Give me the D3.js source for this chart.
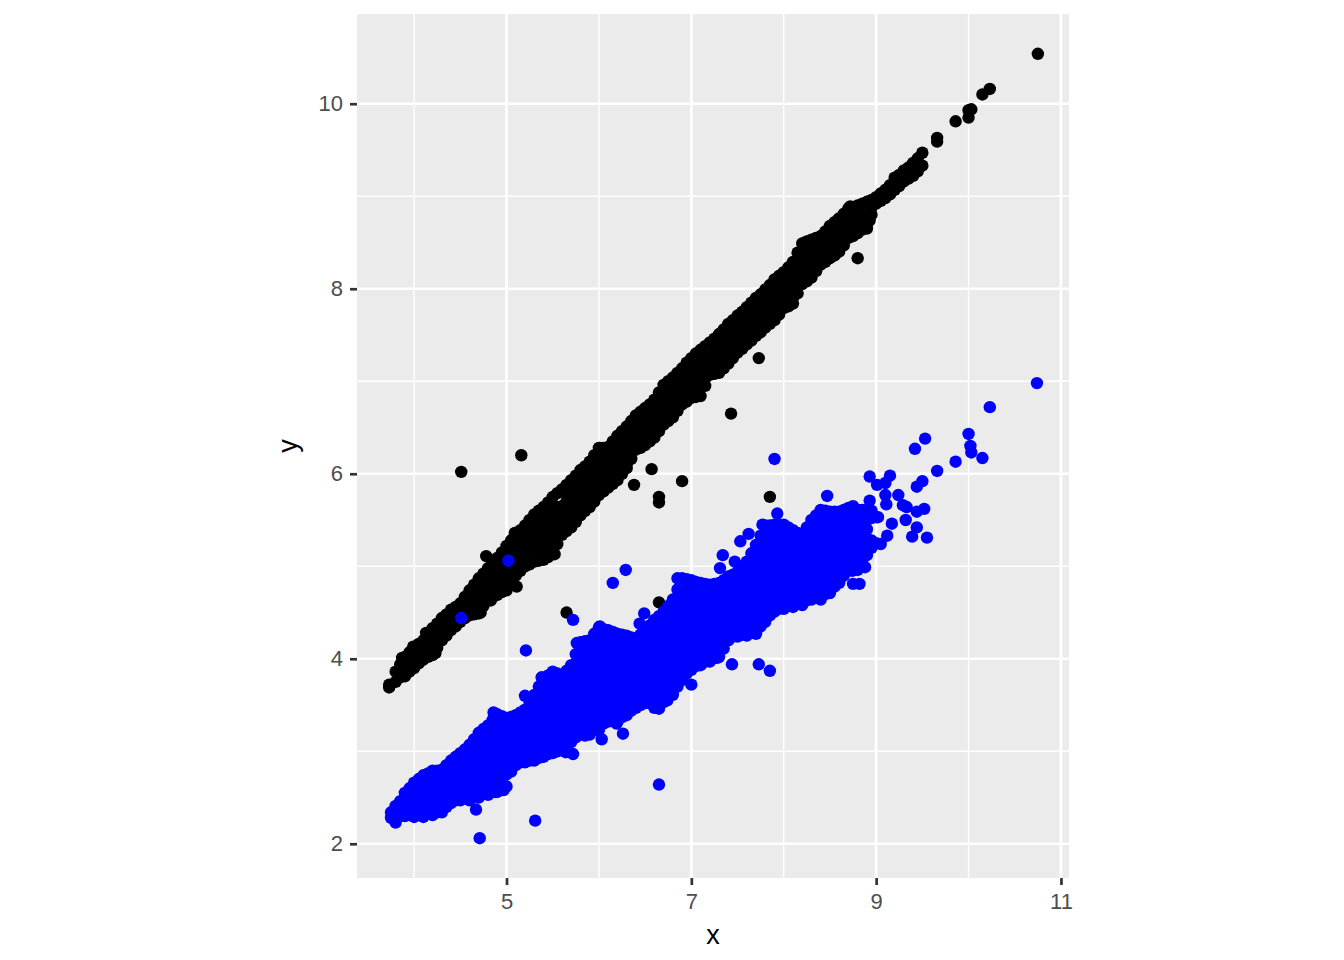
<!DOCTYPE html>
<html>
<head>
<meta charset="utf-8">
<script src="https://cdn.jsdelivr.net/npm/d3@7"></script>
<style>
  html, body { margin: 0; background: #fff; }
  text { font-family: "Liberation Sans", Arial, sans-serif; }
</style>
</head>
<body>
<div id="chart"></div>
<script>
const xMajor = [5, 7, 9, 11];
const xMinor = [4, 6, 8, 10];
const yMajor = [2, 4, 6, 8, 10];
const yMinor = [3, 5, 7, 9];

// the bands are too dense to read dot by dot, so each row is [x, [y, y, ...]] estimated by eye
const blackBand = [
  [3.73, [3.69, 3.72]],
  [3.8, [3.75, 3.86]],
  [3.9, [3.81, 3.92, 4.02]],
  [4.0, [3.90, 4.00, 4.12]],
  [4.1, [3.99, 4.10, 4.20]],
  [4.2, [4.04, 4.15, 4.25, 4.33]],
  [4.3, [4.20, 4.30, 4.44]],
  [4.4, [4.31, 4.42, 4.53]],
  [4.5, [4.40, 4.50, 4.60]],
  [4.6, [4.47, 4.55, 4.65, 4.74]],
  [4.7, [4.49, 4.60, 4.70, 4.80, 4.87]],
  [4.8, [4.64, 4.75, 4.85, 4.98]],
  [4.9, [4.69, 4.80, 4.90, 5.00, 5.09]],
  [5.0, [4.74, 4.85, 4.95, 5.05, 5.22]],
  [5.1, [4.90, 5.00, 5.10, 5.20, 5.35]],
  [5.2, [5.00, 5.15, 5.25, 5.35, 5.44]],
  [5.3, [5.05, 5.20, 5.30, 5.40, 5.56]],
  [5.4, [5.07, 5.15, 5.25, 5.35, 5.45, 5.55, 5.64]],
  [5.5, [5.13, 5.30, 5.40, 5.50, 5.60, 5.75]],
  [5.6, [5.34, 5.45, 5.55, 5.65, 5.83]],
  [5.7, [5.42, 5.50, 5.60, 5.70, 5.80, 5.93]],
  [5.8, [5.55, 5.65, 5.75, 5.85, 6.04]],
  [5.9, [5.64, 5.70, 5.80, 5.90, 6.00, 6.13]],
  [6.0, [5.77, 5.85, 5.95, 6.05, 6.15, 6.28]],
  [6.1, [5.85, 5.90, 6.00, 6.10, 6.20, 6.29]],
  [6.2, [5.93, 6.05, 6.15, 6.25, 6.41]],
  [6.3, [6.06, 6.10, 6.20, 6.30, 6.40, 6.51]],
  [6.4, [6.26, 6.35, 6.45, 6.63]],
  [6.5, [6.31, 6.40, 6.50, 6.60, 6.71]],
  [6.6, [6.39, 6.45, 6.55, 6.65, 6.80]],
  [6.7, [6.53, 6.60, 6.70, 6.80, 6.96]],
  [6.8, [6.61, 6.75, 6.85, 6.95, 7.04]],
  [6.9, [6.75, 6.80, 6.90, 7.00, 7.14]],
  [7.0, [6.82, 6.95, 7.05, 7.15, 7.25]],
  [7.1, [6.84, 7.00, 7.10, 7.20, 7.34]],
  [7.2, [7.07, 7.15, 7.25, 7.42]],
  [7.3, [7.09, 7.20, 7.30, 7.40, 7.51]],
  [7.4, [7.19, 7.25, 7.35, 7.45, 7.62]],
  [7.5, [7.31, 7.40, 7.50, 7.60, 7.71]],
  [7.6, [7.40, 7.45, 7.55, 7.65, 7.80]],
  [7.7, [7.49, 7.60, 7.70, 7.80, 7.90]],
  [7.8, [7.58, 7.65, 7.75, 7.85, 7.99]],
  [7.9, [7.66, 7.80, 7.90, 8.00, 8.10]],
  [8.0, [7.79, 7.85, 7.95, 8.05, 8.18]],
  [8.1, [7.84, 7.90, 8.00, 8.10, 8.20, 8.29]],
  [8.2, [8.05, 8.15, 8.25, 8.35, 8.49]],
  [8.3, [8.12, 8.20, 8.30, 8.40, 8.53]],
  [8.4, [8.26, 8.35, 8.45, 8.57]],
  [8.5, [8.33, 8.40, 8.50, 8.68]],
  [8.6, [8.40, 8.55, 8.65, 8.76]],
  [8.7, [8.55, 8.60, 8.70, 8.87]],
  [8.8, [8.60, 8.75, 8.90]],
  [8.9, [8.69, 8.80, 8.94]],
  [9.0, [8.92, 8.99]],
  [9.1, [8.98, 9.07]],
  [9.2, [9.07, 9.20]],
  [9.3, [9.16, 9.28]],
  [9.4, [9.22, 9.36]],
  [9.5, [9.33, 9.47]],
];

// dots between the rows above, so the band closes up as in the reference
const blackFill = [
  [3.85, [3.80, 3.88, 3.94]],
  [3.95, [3.86, 3.94, 4.02, 4.07]],
  [4.05, [3.95, 4.03, 4.11, 4.16]],
  [4.15, [4.02, 4.10, 4.18, 4.26]],
  [4.25, [4.12, 4.20, 4.28, 4.38]],
  [4.35, [4.25, 4.33, 4.41, 4.48]],
  [4.45, [4.35, 4.43, 4.51, 4.56]],
  [4.55, [4.44, 4.52, 4.60, 4.67]],
  [4.65, [4.48, 4.56, 4.64, 4.72, 4.80]],
  [4.75, [4.57, 4.65, 4.73, 4.81, 4.92]],
  [4.85, [4.67, 4.75, 4.83, 4.91, 5.03]],
  [4.95, [4.72, 4.80, 4.88, 4.96, 5.04, 5.15]],
  [5.05, [4.82, 4.90, 4.98, 5.06, 5.14, 5.28]],
  [5.15, [4.95, 5.03, 5.11, 5.19, 5.27, 5.39]],
  [5.25, [5.02, 5.10, 5.18, 5.26, 5.34, 5.42, 5.50]],
  [5.35, [5.06, 5.14, 5.22, 5.30, 5.38, 5.46, 5.60]],
  [5.45, [5.10, 5.18, 5.26, 5.34, 5.42, 5.50, 5.58, 5.69]],
  [5.55, [5.24, 5.32, 5.40, 5.48, 5.56, 5.64, 5.79]],
  [5.65, [5.38, 5.46, 5.54, 5.62, 5.70, 5.78, 5.88]],
  [5.75, [5.48, 5.56, 5.64, 5.72, 5.80, 5.88, 5.98]],
  [5.85, [5.60, 5.68, 5.76, 5.84, 5.92, 6.00, 6.08]],
  [5.95, [5.70, 5.78, 5.86, 5.94, 6.02, 6.10, 6.20]],
  [6.05, [5.81, 5.89, 5.97, 6.05, 6.13, 6.21, 6.28]],
  [6.15, [5.89, 5.97, 6.05, 6.13, 6.21, 6.29, 6.35]],
  [6.25, [6.00, 6.08, 6.16, 6.24, 6.32, 6.40, 6.46]],
  [6.35, [6.16, 6.24, 6.32, 6.40, 6.48, 6.57]],
  [6.45, [6.28, 6.36, 6.44, 6.52, 6.60, 6.67]],
  [6.55, [6.35, 6.43, 6.51, 6.59, 6.67, 6.75]],
  [6.65, [6.46, 6.54, 6.62, 6.70, 6.78, 6.88]],
  [6.75, [6.57, 6.65, 6.73, 6.81, 6.89, 7.00]],
  [6.85, [6.68, 6.76, 6.84, 6.92, 7.00, 7.09]],
  [6.95, [6.78, 6.86, 6.94, 7.02, 7.10, 7.20]],
  [7.05, [6.83, 6.91, 6.99, 7.07, 7.15, 7.23, 7.30]],
  [7.15, [6.95, 7.03, 7.11, 7.19, 7.27, 7.38]],
  [7.25, [7.08, 7.16, 7.24, 7.32, 7.40, 7.46]],
  [7.35, [7.14, 7.22, 7.30, 7.38, 7.46, 7.56]],
  [7.45, [7.25, 7.33, 7.41, 7.49, 7.57, 7.66]],
  [7.55, [7.35, 7.43, 7.51, 7.59, 7.67, 7.75]],
  [7.65, [7.44, 7.52, 7.60, 7.68, 7.76, 7.85]],
  [7.75, [7.53, 7.61, 7.69, 7.77, 7.85, 7.94]],
  [7.85, [7.62, 7.70, 7.78, 7.86, 7.94, 8.04]],
  [7.95, [7.72, 7.80, 7.88, 7.96, 8.04, 8.14]],
  [8.05, [7.81, 7.89, 7.97, 8.05, 8.13, 8.23]],
  [8.15, [7.95, 8.03, 8.11, 8.19, 8.27, 8.39]],
  [8.25, [8.08, 8.16, 8.24, 8.32, 8.40, 8.51]],
  [8.35, [8.19, 8.27, 8.35, 8.43, 8.55]],
  [8.45, [8.29, 8.37, 8.45, 8.53, 8.62]],
  [8.55, [8.36, 8.44, 8.52, 8.60, 8.72]],
  [8.65, [8.47, 8.55, 8.63, 8.71, 8.81]],
  [8.75, [8.57, 8.65, 8.73, 8.81, 8.88]],
  [8.85, [8.64, 8.72, 8.80, 8.92]],
  [8.95, [8.80, 8.88, 8.96]],
  [9.05, [8.95, 9.03]],
  [9.15, [9.02, 9.12]],
  [9.25, [9.11, 9.23]],
  [9.35, [9.19, 9.31]],
  [9.45, [9.27, 9.41]],
];

const blackSingles = [
  [9.66, 9.63], [9.66, 9.59], [9.86, 9.81], [10.0, 9.85], [10.03, 9.94], [10.0, 9.93],
  [10.15, 10.10], [10.23, 10.16], [10.75, 10.54],
  [7.73, 7.25], [7.43, 6.65], [8.80, 8.33], [5.16, 6.20], [4.51, 6.02], [4.78, 5.11],
  [6.57, 6.05], [6.38, 5.88], [6.90, 5.92], [6.65, 5.75], [6.65, 5.69], [5.65, 4.50],
  [6.65, 4.61], [5.11, 4.78], [7.85, 5.75],
  [3.99, 4.13], [3.87, 4.01], [4.13, 4.28], [4.23, 4.06], [4.72, 4.50], [5.52, 5.13],
  [5.21, 5.01], [4.83, 4.63], [8.59, 8.75], [8.72, 8.89], [8.90, 8.65], [8.93, 8.74],
  [8.23, 8.50], [6.01, 6.28], [5.09, 5.36],
];

const blueBand = [
  [3.75, [2.28, 2.34]],
  [3.8, [2.23, 2.32, 2.41]],
  [3.9, [2.30, 2.40, 2.48, 2.55]],
  [4.0, [2.29, 2.35, 2.45, 2.55, 2.66]],
  [4.1, [2.29, 2.40, 2.50, 2.60, 2.74]],
  [4.2, [2.31, 2.35, 2.45, 2.55, 2.65, 2.79]],
  [4.3, [2.34, 2.40, 2.50, 2.60, 2.70, 2.80]],
  [4.4, [2.44, 2.55, 2.65, 2.75, 2.82, 2.90]],
  [4.5, [2.47, 2.60, 2.70, 2.80, 2.90, 2.98]],
  [4.6, [2.47, 2.55, 2.65, 2.75, 2.85, 2.95, 3.07]],
  [4.7, [2.50, 2.60, 2.70, 2.80, 2.90, 3.00, 3.10, 3.20]],
  [4.8, [2.53, 2.65, 2.75, 2.85, 2.95, 3.05, 3.15, 3.28]],
  [4.9, [2.56, 2.70, 2.80, 2.90, 3.00, 3.10, 3.20, 3.30, 3.40]],
  [5.0, [2.62, 2.75, 2.85, 2.95, 3.05, 3.15, 3.25, 3.36]],
  [5.1, [2.85, 2.90, 3.00, 3.10, 3.20, 3.30, 3.39]],
  [5.2, [2.88, 2.95, 3.05, 3.15, 3.25, 3.35, 3.45]],
  [5.3, [2.90, 3.00, 3.10, 3.20, 3.30, 3.40, 3.50, 3.61]],
  [5.4, [2.94, 3.05, 3.15, 3.25, 3.35, 3.45, 3.55, 3.65, 3.79]],
  [5.5, [2.98, 3.10, 3.20, 3.30, 3.40, 3.50, 3.60, 3.70, 3.78, 3.86]],
  [5.6, [3.02, 3.15, 3.25, 3.35, 3.45, 3.55, 3.65, 3.75, 3.81]],
  [5.7, [3.10, 3.20, 3.30, 3.40, 3.50, 3.60, 3.70, 3.80, 3.93]],
  [5.8, [3.18, 3.25, 3.35, 3.45, 3.55, 3.65, 3.75, 3.85, 3.95, 4.05, 4.18]],
  [5.9, [3.18, 3.30, 3.40, 3.50, 3.60, 3.70, 3.80, 3.90, 4.00, 4.10, 4.20]],
  [6.0, [3.23, 3.35, 3.45, 3.55, 3.65, 3.75, 3.85, 3.95, 4.05, 4.15, 4.25, 4.34]],
  [6.1, [3.32, 3.40, 3.50, 3.60, 3.70, 3.80, 3.90, 4.00, 4.10, 4.20, 4.31]],
  [6.2, [3.32, 3.45, 3.55, 3.65, 3.75, 3.85, 3.95, 4.05, 4.15, 4.27]],
  [6.3, [3.39, 3.50, 3.60, 3.70, 3.80, 3.90, 4.00, 4.10, 4.20, 4.25]],
  [6.4, [3.47, 3.55, 3.65, 3.75, 3.85, 3.95, 4.05, 4.15, 4.22]],
  [6.5, [3.52, 3.60, 3.70, 3.80, 3.90, 4.00, 4.10, 4.20, 4.31]],
  [6.6, [3.47, 3.55, 3.65, 3.75, 3.85, 3.95, 4.05, 4.15, 4.25, 4.35, 4.42]],
  [6.7, [3.53, 3.60, 3.70, 3.80, 3.90, 4.00, 4.10, 4.20, 4.30, 4.40, 4.51]],
  [6.8, [3.61, 3.75, 3.85, 3.95, 4.05, 4.15, 4.25, 4.35, 4.45, 4.55, 4.64]],
  [6.9, [3.77, 3.80, 3.90, 4.00, 4.10, 4.20, 4.30, 4.40, 4.50, 4.60, 4.70, 4.87]],
  [7.0, [3.88, 3.95, 4.05, 4.15, 4.25, 4.35, 4.45, 4.55, 4.65, 4.75, 4.85]],
  [7.1, [3.93, 4.00, 4.10, 4.20, 4.30, 4.40, 4.50, 4.60, 4.70, 4.82]],
  [7.2, [3.97, 4.05, 4.15, 4.25, 4.35, 4.45, 4.55, 4.65, 4.75, 4.80]],
  [7.3, [4.02, 4.10, 4.20, 4.30, 4.40, 4.50, 4.60, 4.70, 4.82]],
  [7.4, [4.20, 4.25, 4.35, 4.45, 4.55, 4.65, 4.75, 4.89]],
  [7.5, [4.24, 4.30, 4.40, 4.50, 4.60, 4.70, 4.80, 4.94]],
  [7.6, [4.25, 4.35, 4.45, 4.55, 4.65, 4.75, 4.85, 4.95, 5.05]],
  [7.7, [4.27, 4.40, 4.50, 4.60, 4.70, 4.80, 4.90, 5.00, 5.10, 5.23]],
  [7.8, [4.40, 4.45, 4.55, 4.65, 4.75, 4.85, 4.95, 5.05, 5.15, 5.25, 5.35, 5.44]],
  [7.9, [4.51, 4.60, 4.70, 4.80, 4.90, 5.00, 5.10, 5.20, 5.30, 5.45]],
  [8.0, [4.54, 4.65, 4.75, 4.85, 4.95, 5.05, 5.15, 5.25, 5.35, 5.45]],
  [8.1, [4.56, 4.60, 4.70, 4.80, 4.90, 5.00, 5.10, 5.20, 5.30, 5.39]],
  [8.2, [4.58, 4.65, 4.75, 4.85, 4.95, 5.05, 5.15, 5.25, 5.34]],
  [8.3, [4.64, 4.70, 4.80, 4.90, 5.00, 5.10, 5.20, 5.30, 5.40, 5.50]],
  [8.4, [4.64, 4.75, 4.85, 4.95, 5.05, 5.15, 5.25, 5.35, 5.45, 5.61]],
  [8.5, [4.71, 4.80, 4.90, 5.00, 5.10, 5.20, 5.30, 5.40, 5.50, 5.59]],
  [8.6, [4.82, 4.85, 4.95, 5.05, 5.15, 5.25, 5.35, 5.45, 5.59]],
  [8.7, [4.96, 5.00, 5.10, 5.20, 5.30, 5.40, 5.50, 5.63]],
  [8.8, [4.96, 5.05, 5.15, 5.25, 5.35, 5.45, 5.61]],
  [8.9, [5.12, 5.20, 5.30, 5.40, 5.50, 5.61]],
  [9.0, [5.25, 5.53]],
];

const blueFill = [
  [3.85, [2.30, 2.38, 2.46]],
  [3.95, [2.31, 2.39, 2.47, 2.55, 2.60]],
  [4.05, [2.32, 2.40, 2.48, 2.56, 2.64, 2.70]],
  [4.15, [2.32, 2.40, 2.48, 2.56, 2.64, 2.72, 2.76]],
  [4.25, [2.34, 2.42, 2.50, 2.58, 2.66, 2.74, 2.79]],
  [4.35, [2.40, 2.48, 2.56, 2.64, 2.72, 2.80, 2.85]],
  [4.45, [2.47, 2.55, 2.63, 2.71, 2.79, 2.87, 2.94]],
  [4.55, [2.50, 2.58, 2.66, 2.74, 2.82, 2.90, 2.98, 3.02]],
  [4.65, [2.52, 2.60, 2.68, 2.76, 2.84, 2.92, 3.00, 3.08, 3.13]],
  [4.75, [2.55, 2.63, 2.71, 2.79, 2.87, 2.95, 3.03, 3.11, 3.19, 3.24]],
  [4.85, [2.58, 2.66, 2.74, 2.82, 2.90, 2.98, 3.06, 3.14, 3.22, 3.30, 3.34]],
  [4.95, [2.66, 2.74, 2.82, 2.90, 2.98, 3.06, 3.14, 3.22, 3.30, 3.38]],
  [5.05, [2.78, 2.86, 2.94, 3.02, 3.10, 3.18, 3.26, 3.37]],
  [5.15, [2.88, 2.96, 3.04, 3.12, 3.20, 3.28, 3.36, 3.42]],
  [5.25, [2.90, 2.98, 3.06, 3.14, 3.22, 3.30, 3.38, 3.46, 3.53]],
  [5.35, [2.93, 3.01, 3.09, 3.17, 3.25, 3.33, 3.41, 3.49, 3.57, 3.70]],
  [5.45, [2.97, 3.05, 3.13, 3.21, 3.29, 3.37, 3.45, 3.53, 3.61, 3.69, 3.82]],
  [5.55, [3.00, 3.08, 3.16, 3.24, 3.32, 3.40, 3.48, 3.56, 3.64, 3.72, 3.84]],
  [5.65, [3.08, 3.16, 3.24, 3.32, 3.40, 3.48, 3.56, 3.64, 3.72, 3.80, 3.87]],
  [5.75, [3.15, 3.23, 3.31, 3.39, 3.47, 3.55, 3.63, 3.71, 3.79, 3.87, 3.95, 4.05]],
  [5.85, [3.20, 3.28, 3.36, 3.44, 3.52, 3.60, 3.68, 3.76, 3.84, 3.92, 4.00, 4.08, 4.19]],
  [5.95, [3.23, 3.31, 3.39, 3.47, 3.55, 3.63, 3.71, 3.79, 3.87, 3.95, 4.03, 4.11, 4.19, 4.27]],
  [6.05, [3.30, 3.38, 3.46, 3.54, 3.62, 3.70, 3.78, 3.86, 3.94, 4.02, 4.10, 4.18, 4.26, 4.32]],
  [6.15, [3.34, 3.42, 3.50, 3.58, 3.66, 3.74, 3.82, 3.90, 3.98, 4.06, 4.14, 4.22, 4.29]],
  [6.25, [3.37, 3.45, 3.53, 3.61, 3.69, 3.77, 3.85, 3.93, 4.01, 4.09, 4.17, 4.26]],
  [6.35, [3.44, 3.52, 3.60, 3.68, 3.76, 3.84, 3.92, 4.00, 4.08, 4.16, 4.23]],
  [6.45, [3.50, 3.58, 3.66, 3.74, 3.82, 3.90, 3.98, 4.06, 4.14, 4.26]],
  [6.55, [3.52, 3.60, 3.68, 3.76, 3.84, 3.92, 4.00, 4.08, 4.16, 4.24, 4.36]],
  [6.65, [3.52, 3.60, 3.68, 3.76, 3.84, 3.92, 4.00, 4.08, 4.16, 4.24, 4.32, 4.46]],
  [6.75, [3.59, 3.67, 3.75, 3.83, 3.91, 3.99, 4.07, 4.15, 4.23, 4.31, 4.39, 4.47, 4.57]],
  [6.85, [3.70, 3.78, 3.86, 3.94, 4.02, 4.10, 4.18, 4.26, 4.34, 4.42, 4.50, 4.58, 4.66, 4.75]],
  [6.95, [3.84, 3.92, 4.00, 4.08, 4.16, 4.24, 4.32, 4.40, 4.48, 4.56, 4.64, 4.72, 4.80, 4.86]],
  [7.05, [3.92, 4.00, 4.08, 4.16, 4.24, 4.32, 4.40, 4.48, 4.56, 4.64, 4.72, 4.83]],
  [7.15, [3.97, 4.05, 4.13, 4.21, 4.29, 4.37, 4.45, 4.53, 4.61, 4.69, 4.81]],
  [7.25, [4.01, 4.09, 4.17, 4.25, 4.33, 4.41, 4.49, 4.57, 4.65, 4.73, 4.81]],
  [7.35, [4.11, 4.19, 4.27, 4.35, 4.43, 4.51, 4.59, 4.67, 4.75, 4.85]],
  [7.45, [4.24, 4.32, 4.40, 4.48, 4.56, 4.64, 4.72, 4.80, 4.91]],
  [7.55, [4.26, 4.34, 4.42, 4.50, 4.58, 4.66, 4.74, 4.82, 4.90, 5.00]],
  [7.65, [4.28, 4.36, 4.44, 4.52, 4.60, 4.68, 4.76, 4.84, 4.92, 5.00, 5.14]],
  [7.75, [4.35, 4.43, 4.51, 4.59, 4.67, 4.75, 4.83, 4.91, 4.99, 5.07, 5.15, 5.23, 5.33]],
  [7.85, [4.47, 4.55, 4.63, 4.71, 4.79, 4.87, 4.95, 5.03, 5.11, 5.19, 5.27, 5.35, 5.44]],
  [7.95, [4.54, 4.62, 4.70, 4.78, 4.86, 4.94, 5.02, 5.10, 5.18, 5.26, 5.34, 5.45]],
  [8.05, [4.57, 4.65, 4.73, 4.81, 4.89, 4.97, 5.05, 5.13, 5.21, 5.29, 5.37, 5.42]],
  [8.15, [4.59, 4.67, 4.75, 4.83, 4.91, 4.99, 5.07, 5.15, 5.23, 5.31, 5.36]],
  [8.25, [4.63, 4.71, 4.79, 4.87, 4.95, 5.03, 5.11, 5.19, 5.27, 5.35, 5.42]],
  [8.35, [4.66, 4.74, 4.82, 4.90, 4.98, 5.06, 5.14, 5.22, 5.30, 5.38, 5.46, 5.55]],
  [8.45, [4.70, 4.78, 4.86, 4.94, 5.02, 5.10, 5.18, 5.26, 5.34, 5.42, 5.50, 5.60]],
  [8.55, [4.78, 4.86, 4.94, 5.02, 5.10, 5.18, 5.26, 5.34, 5.42, 5.50, 5.59]],
  [8.65, [4.90, 4.98, 5.06, 5.14, 5.22, 5.30, 5.38, 5.46, 5.54, 5.61]],
  [8.75, [4.98, 5.06, 5.14, 5.22, 5.30, 5.38, 5.46, 5.54, 5.62]],
  [8.85, [5.07, 5.15, 5.23, 5.31, 5.39, 5.47, 5.55, 5.61]],
  [8.95, [5.20, 5.28, 5.52, 5.60]],
];

const blueSingles = [
  [5.21, 4.09], [5.72, 4.42], [6.15, 4.82], [6.29, 4.96], [6.49, 4.49], [5.02, 5.06], [4.51, 4.44],
  [6.65, 2.64], [5.31, 2.25], [4.71, 2.06], [4.67, 2.37], [7.90, 6.16], [7.93, 5.57],
  [10.74, 6.98], [10.23, 6.72], [10.0, 6.43], [10.02, 6.30], [10.03, 6.23], [10.15, 6.17],
  [9.86, 6.13], [9.66, 6.03], [9.53, 6.38], [9.42, 6.27], [9.44, 5.86], [9.50, 5.92],
  [8.93, 5.97], [9.01, 5.88], [9.15, 5.98], [9.10, 5.90], [9.10, 5.77], [9.24, 5.77],
  [9.29, 5.66], [9.33, 5.64], [9.44, 5.59], [9.52, 5.62], [9.32, 5.50], [9.44, 5.42],
  [9.39, 5.32], [9.55, 5.31], [9.17, 5.46], [9.02, 5.53], [9.11, 5.67], [9.05, 5.24],
  [9.12, 5.33], [8.93, 5.71], [8.75, 5.65], [8.47, 5.76], [7.73, 3.94], [7.85, 3.87],
  [7.44, 3.94], [7.0, 3.72], [7.28, 4.01], [6.03, 3.13], [6.26, 3.19], [5.72, 2.97],
  [5.64, 2.99], [4.97, 2.58], [4.87, 2.56], [8.75, 4.81], [8.82, 4.81], [8.74, 4.95],
  [8.88, 4.99], [7.61, 5.03], [7.47, 5.05], [7.31, 4.98], [7.34, 5.12], [7.53, 5.27],
  [7.62, 5.35], [7.77, 5.45],
  [4.86, 3.42], [5.20, 3.60], [5.38, 3.80], [5.76, 4.17], [5.78, 4.06], [6.01, 4.35],
  [5.94, 4.20], [6.44, 4.38], [6.85, 4.87], [6.96, 4.85], [6.65, 3.46], [6.74, 3.55],
  [5.85, 3.17], [5.66, 3.12], [5.47, 2.98], [6.19, 3.30], [6.39, 3.47], [4.20, 2.33],
];

const width = 1344;
const height = 960;
const panel = { left: 357, right: 1069, top: 14, bottom: 878 };

const svg = d3.select("#chart").append("svg").attr("width", width).attr("height", height);

const scaleX = d3.scaleLinear().domain([3.382, 11.087]).range([panel.left, panel.right]);
const scaleY = d3.scaleLinear().domain([1.63, 10.97]).range([panel.bottom, panel.top]);

svg
  .append("rect")
  .attr("x", panel.left)
  .attr("y", panel.top)
  .attr("width", panel.right - panel.left)
  .attr("height", panel.bottom - panel.top)
  .attr("fill", "#EBEBEB");

function drawGrid(values, isX, strokeWidth) {
  svg
    .append("g")
    .selectAll("line")
    .data(values)
    .enter()
    .append("line")
    .attr("x1", (d) => (isX ? scaleX(d) : panel.left))
    .attr("x2", (d) => (isX ? scaleX(d) : panel.right))
    .attr("y1", (d) => (isX ? panel.top : scaleY(d)))
    .attr("y2", (d) => (isX ? panel.bottom : scaleY(d)))
    .attr("stroke", "#fff")
    .attr("stroke-width", strokeWidth);
}

drawGrid(xMinor, true, 1.35);
drawGrid(yMinor, false, 1.35);
drawGrid(xMajor, true, 2.7);
drawGrid(yMajor, false, 2.7);

function drawPoints(rows, singles, color) {
  const points = rows.flatMap(([x, ys]) => ys.map((y) => [x, y])).concat(singles);
  svg
    .append("g")
    .selectAll("circle")
    .data(points)
    .enter()
    .append("circle")
    .attr("cx", (d) => scaleX(d[0]))
    .attr("cy", (d) => scaleY(d[1]))
    .attr("r", 6.2)
    .attr("fill", color);
}

drawPoints(blackBand.concat(blackFill), blackSingles, "#000");
drawPoints(blueBand.concat(blueFill), blueSingles, "#00f");

const xAxis = d3.axisBottom(scaleX).tickValues(xMajor).tickSize(7).tickPadding(8).tickSizeOuter(0);
const yAxis = d3.axisLeft(scaleY).tickValues(yMajor).tickSize(7).tickPadding(7).tickSizeOuter(0);

function styleAxis(g) {
  g.select(".domain").remove();
  g.selectAll(".tick line").attr("stroke", "#333").attr("stroke-width", 2.7);
  g.selectAll(".tick text")
    .attr("fill", "#4D4D4D")
    .style("font-size", "22px")
    .style("font-family", '"Liberation Sans", Arial, sans-serif');
}

svg.append("g").attr("transform", "translate(0," + panel.bottom + ")").call(xAxis).call(styleAxis);
svg.append("g").attr("transform", "translate(" + panel.left + ",0)").call(yAxis).call(styleAxis);

svg
  .append("text")
  .attr("x", (panel.left + panel.right) / 2)
  .attr("y", 944)
  .attr("text-anchor", "middle")
  .style("font-size", "27px")
  .text("x");

svg
  .append("text")
  .attr("transform", "translate(297," + (panel.top + panel.bottom) / 2 + ") rotate(-90)")
  .attr("text-anchor", "middle")
  .style("font-size", "27px")
  .text("y");
</script>
</body>
</html>
